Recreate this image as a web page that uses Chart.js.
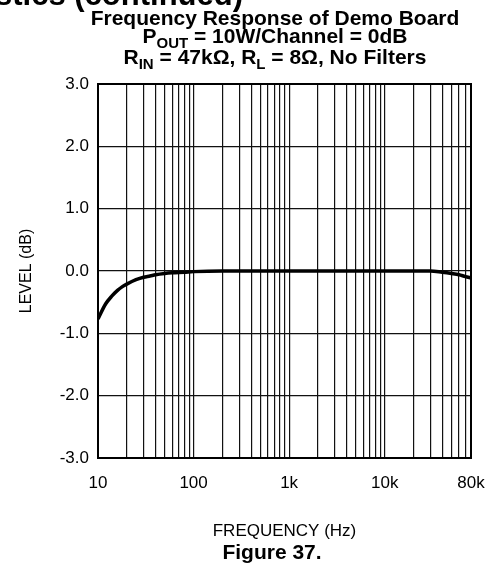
<!DOCTYPE html>
<html>
<head>
<meta charset="utf-8">
<script src="https://cdn.jsdelivr.net/npm/chart.js@4"></script>
<style>
	html, body { margin: 0; padding: 0; background: #fff; }
	#wrap { width: 487px; height: 563px; }
</style>
</head>
<body>
<div id="wrap"><canvas id="respChart" width="487" height="563"></canvas></div>
<script>
// data block
const freqHz = [10, 12, 14, 16, 18, 20, 25, 30, 35, 40, 50, 60, 80, 100, 200, 500, 1000, 5000, 10000, 20000, 30000, 40000, 50000, 60000, 70000, 80000];
const levelDb = [-0.77, -0.53, -0.40, -0.31, -0.25, -0.21, -0.14, -0.10, -0.08, -0.06, -0.04, -0.03, -0.02, -0.01, 0.0, 0.0, 0.0, 0.0, 0.0, 0.0, 0.0, -0.02, -0.04, -0.06, -0.09, -0.11];

// grid lines on the log axis, and which of them carry a label
const gridFreqs = [10, 20, 30, 40, 50, 60, 70, 80, 90,
	100, 200, 300, 400, 500, 600, 700, 800, 900,
	1000, 2000, 3000, 4000, 5000, 6000, 7000, 8000, 9000,
	10000, 20000, 30000, 40000, 50000, 60000, 70000, 80000];
const freqLabels = { 10: '10', 100: '100', 1000: '1k', 10000: '10k', 80000: '80k' };
const levelTicks = [-3, -2, -1, 0, 1, 2, 3];

const titleLines = ['Frequency Response of Demo Board', 'P|OUT| = 10W/Channel = 0dB', 'R|IN| = 47kΩ, R|L| = 8Ω, No Filters'];
const headerText = 'Typical Characteristics (continued)';
const figureText = 'Figure 37.';

const FONT = '"Liberation Sans", Arial, sans-serif';

// draws a line with |sub| parts as subscripts, centred on cx
function drawRich(ctx, text, cx, y, size) {
	const parts = text.split('|');
	const big = 'bold ' + size + 'px ' + FONT;
	const small = 'bold ' + Math.round(size * 0.72) + 'px ' + FONT;
	let total = 0;
	parts.forEach((p, i) => {
		ctx.font = i % 2 ? small : big;
		total += ctx.measureText(p).width;
	});
	let x = cx - total / 2;
	ctx.textAlign = 'left';
	parts.forEach((p, i) => {
		ctx.font = i % 2 ? small : big;
		ctx.fillText(p, x, i % 2 ? y + 5 : y);
		x += ctx.measureText(p).width;
	});
}

const decor = {
	id: 'decor',
	afterDraw(chart) {
		const { ctx, chartArea } = chart;
		ctx.save();
		// frame
		ctx.strokeStyle = '#000';
		ctx.lineWidth = 2;
		ctx.strokeRect(chartArea.left, chartArea.top, chartArea.right - chartArea.left, chartArea.bottom - chartArea.top);
		ctx.fillStyle = '#000';
		ctx.textBaseline = 'alphabetic';
		// page header cut by the top edge
		ctx.font = 'bold 31px ' + FONT;
		ctx.textAlign = 'right';
		ctx.fillText(headerText, 243, 5);
		// chart title
		drawRich(ctx, titleLines[0], 275, 25, 21);
		drawRich(ctx, titleLines[1], 275, 43, 21);
		drawRich(ctx, titleLines[2], 275, 64, 21);
		// figure caption
		ctx.font = 'bold 21px ' + FONT;
		ctx.textAlign = 'center';
		ctx.fillText(figureText, 272, 559);
		ctx.restore();
	},
};

// config block
const config = {
	type: 'line',
	data: {
		datasets: [
			{
				data: freqHz.map((f, i) => ({ x: f, y: levelDb[i] })),
				borderColor: '#000',
				borderWidth: 3.5,
				pointRadius: 0,
				cubicInterpolationMode: 'monotone',
				fill: false,
			},
		],
	},
	options: {
		responsive: false,
		animation: false,
		layout: { padding: { left: 0, right: 16, top: 84, bottom: 0 } },
		plugins: { legend: { display: false }, tooltip: { enabled: false } },
		scales: {
			x: {
				type: 'logarithmic',
				min: 10,
				max: 80000,
				afterBuildTicks: (scale) => {
					scale.ticks = gridFreqs.map((v) => ({ value: v }));
				},
				afterFit: (scale) => {
					scale.height = 105;
					scale.paddingLeft = 0;
					scale.paddingRight = 0;
				},
				grid: { color: '#111', lineWidth: 1.2, drawTicks: false },
				border: { display: false },
				ticks: {
					autoSkip: false,
					maxRotation: 0,
					padding: 15,
					color: '#000',
					font: { family: FONT, size: 17 },
					callback: (v) => freqLabels[v] || '',
				},
				title: {
					display: true,
					text: 'FREQUENCY (Hz)',
					color: '#000',
					font: { family: FONT, size: 17 },
					padding: { top: 0, bottom: 21 },
				},
			},
			y: {
				min: -3,
				max: 3,
				afterBuildTicks: (scale) => {
					scale.ticks = levelTicks.map((v) => ({ value: v }));
				},
				afterFit: (scale) => {
					scale.width = 98;
				},
				grid: { color: '#111', lineWidth: 1.2, drawTicks: false },
				border: { display: false },
				ticks: {
					padding: 9,
					color: '#000',
					font: { family: FONT, size: 17 },
					callback: (v) => v.toFixed(1),
				},
				title: {
					display: true,
					text: 'LEVEL (dB)',
					color: '#000',
					font: { family: FONT, size: 16 },
					padding: { top: 17, bottom: 0 },
				},
			},
		},
	},
	plugins: [decor],
};

// render block
const respChart = new Chart(document.getElementById('respChart'), config);
</script>
</body>
</html>
